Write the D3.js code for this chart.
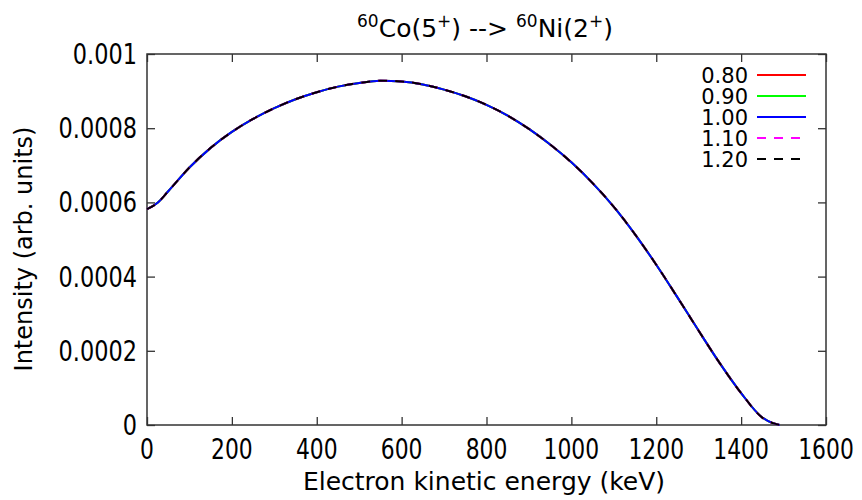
<!DOCTYPE html>
<html>
<head>
<meta charset="utf-8">
<script src="https://cdn.jsdelivr.net/npm/d3@7"></script>
<style>
  body { margin: 0; background: #fff; }
  text { font-family: "DejaVu Sans", sans-serif; fill: #000; }
</style>
</head>
<body>
<svg width="862" height="500"></svg>
<script>
// spectrum (keV, arb. units)
var energy = [0, 25, 50, 100, 150, 200, 250, 300, 350, 400, 450, 500, 550, 600, 650, 700,
  750, 800, 850, 900, 950, 1000, 1050, 1100, 1150, 1200, 1250, 1300, 1350, 1400, 1450, 1475, 1491];
var intensity = [5.82, 5.99, 6.30, 6.94, 7.47, 7.90, 8.25, 8.54, 8.78, 8.97, 9.12, 9.22, 9.28, 9.26, 9.18, 9.04,
  8.86, 8.63, 8.34, 7.98, 7.56, 7.08, 6.52, 5.88, 5.14, 4.32, 3.44, 2.54, 1.66, 0.86, 0.20, 0.05, 0]
  .map(function(v) { return v * 1e-4; });

var labels = ['0.80', '0.90', '1.00', '1.10', '1.20'];
var colors = ['#ff0000', '#00ff00', '#0000ff', '#ff00ff', '#000000'];
var dashes = [null, null, null, '9,8', '9,8'];

var xTicks = [0, 200, 400, 600, 800, 1000, 1200, 1400, 1600];
var yTicks = [0, 0.0002, 0.0004, 0.0006, 0.0008, 0.001];
var yTickText = ['0', '0.0002', '0.0004', '0.0006', '0.0008', '0.001'];

var svg = d3.select('svg');
var margin = { top: 54, right: 36, bottom: 75, left: 147 };
var width = +svg.attr('width') - margin.left - margin.right;
var height = +svg.attr('height') - margin.top - margin.bottom;
var g = svg.append('g')
  .attr('transform', 'translate(' + margin.left + ',' + margin.top + ')');

var x = d3.scaleLinear().domain([0, 1600]).range([0, width]);
var y = d3.scaleLinear().domain([0, 0.001]).range([height, 0]);

var axisColor = '#333';

// squeeze tick label glyphs a bit (reference font has narrow digits)
function squeeze(sel, f) {
  sel.each(function() {
    var w = this.getComputedTextLength();
    d3.select(this).attr('textLength', w * f).attr('lengthAdjust', 'spacingAndGlyphs');
  });
}

// tick marks pointing in, mirrored on all sides
var tickLen = 8;
g.append('g').call(d3.axisBottom(x).tickValues(xTicks).tickSize(-tickLen).tickFormat(''))
  .attr('transform', 'translate(0,' + height + ')');
g.append('g').call(d3.axisTop(x).tickValues(xTicks).tickSize(-tickLen).tickFormat(''));
g.append('g').call(d3.axisLeft(y).tickValues(yTicks).tickSize(-tickLen).tickFormat(''));
g.append('g').call(d3.axisRight(y).tickValues(yTicks).tickSize(-tickLen).tickFormat(''))
  .attr('transform', 'translate(' + width + ',0)');
g.selectAll('.domain').remove();
g.selectAll('.tick line').attr('stroke', axisColor).attr('stroke-width', 1.3);

g.append('rect')
  .attr('width', width).attr('height', height)
  .attr('fill', 'none').attr('stroke', axisColor).attr('stroke-width', 1.5);

// tick labels
g.selectAll('.xlab').data(xTicks).enter().append('text')
  .attr('x', function(d) { return x(d); })
  .attr('y', height + 34)
  .attr('text-anchor', 'middle')
  .style('font-size', '28px')
  .text(function(d) { return d; })
  .call(squeeze, 0.78);

g.selectAll('.ylab').data(yTicks).enter().append('text')
  .attr('x', -10)
  .attr('y', function(d) { return y(d) + 10; })
  .attr('text-anchor', 'end')
  .style('font-size', '28px')
  .text(function(d, i) { return yTickText[i]; })
  .call(squeeze, 0.8);

// curves
var line = d3.line()
  .x(function(d, i) { return x(energy[i]); })
  .y(function(d) { return y(d); })
  .curve(d3.curveMonotoneX);

labels.forEach(function(lab, i) {
  g.append('path')
    .datum(intensity)
    .attr('d', line)
    .attr('fill', 'none')
    .attr('stroke', colors[i])
    .attr('stroke-width', 2)
    .attr('stroke-dasharray', dashes[i]);
});

// legend
var legend = g.append('g');
labels.forEach(function(lab, i) {
  var ly = 21 + i * 21;
  legend.append('text')
    .attr('x', 601).attr('y', ly + 8)
    .attr('text-anchor', 'end')
    .style('font-size', '21px')
    .text(lab);
  legend.append('line')
    .attr('x1', 610).attr('x2', 659)
    .attr('y1', ly).attr('y2', ly)
    .attr('stroke', colors[i])
    .attr('stroke-width', 2)
    .attr('stroke-dasharray', dashes[i]);
});

// title
var title = svg.append('text')
  .attr('x', 485).attr('y', 37)
  .attr('text-anchor', 'middle')
  .style('font-size', '25px');
title.append('tspan').attr('font-size', '17px').attr('dy', -10).text('60');
title.append('tspan').attr('dy', 10).text('Co(5');
title.append('tspan').attr('font-size', '17px').attr('dy', -10).text('+');
title.append('tspan').attr('dy', 10).text(') --> ');
title.append('tspan').attr('font-size', '17px').attr('dy', -10).text('60');
title.append('tspan').attr('dy', 10).text('Ni(2');
title.append('tspan').attr('font-size', '17px').attr('dy', -10).text('+');
title.append('tspan').attr('dy', 10).text(')');

// axis titles
svg.append('text')
  .attr('x', 484)
  .attr('y', 490)
  .attr('text-anchor', 'middle')
  .style('font-size', '25px')
  .text('Electron kinetic energy (keV)');

svg.append('text')
  .attr('transform', 'translate(32,249) rotate(-90)')
  .attr('text-anchor', 'middle')
  .style('font-size', '24px')
  .text('Intensity (arb. units)');
</script>
</body>
</html>
